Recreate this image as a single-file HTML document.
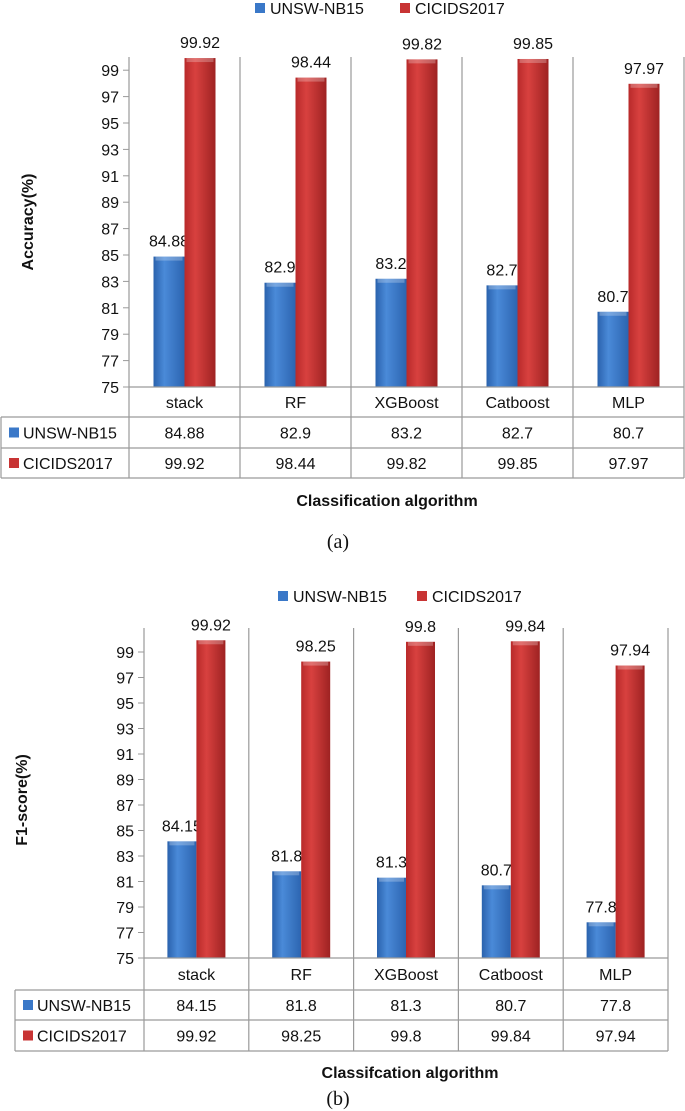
<!DOCTYPE html>
<html><head><meta charset="utf-8"><style>
html,body{margin:0;padding:0;background:#fff;}
svg{display:block;font-family:"Liberation Sans",sans-serif;}
</style></head><body>
<svg id="chart" width="685" height="1111" viewBox="0 0 685 1111" xmlns="http://www.w3.org/2000/svg">
<defs>
<linearGradient id="gb" x1="0" x2="1"><stop offset="0" stop-color="#2a62ad"/><stop offset="0.35" stop-color="#4a8ad8"/><stop offset="1" stop-color="#2c64b0"/></linearGradient>
<linearGradient id="gr" x1="0" x2="1"><stop offset="0" stop-color="#b82a2a"/><stop offset="0.35" stop-color="#d8413f"/><stop offset="1" stop-color="#9e2222"/></linearGradient>
</defs>
</svg>
<script>
const categories = ["stack","RF","XGBoost","Catboost","MLP"];
const seriesNames = ["UNSW-NB15","CICIDS2017"];
const accUNSW = [84.88, 82.9, 83.2, 82.7, 80.7];
const accCIC = [99.92, 98.44, 99.82, 99.85, 97.97];
const f1UNSW = [84.15, 81.8, 81.3, 80.7, 77.8];
const f1CIC = [99.92, 98.25, 99.8, 99.84, 97.94];
const yTicks = [75,77,79,81,83,85,87,89,91,93,95,97,99];

const NS = "http://www.w3.org/2000/svg";
const svg = document.getElementById('chart');
function mk(tag, attrs, parent, text){
  const e = document.createElementNS(NS, tag);
  for (const k in attrs) e.setAttribute(k, attrs[k]);
  if (text !== undefined) e.textContent = text;
  (parent || svg).appendChild(e);
  return e;
}
const colors = ["url(#gb)","url(#gr)"];
const solid = ["#3a78c8","#c83434"];

function drawChart(cfg){
  const g = mk('g', {});
  
  
  const yScale = v => cfg.y0 - (v - 75) * cfg.unit;
  const colX = i => cfg.ax + i * cfg.cw;
  const center = i => colX(i) + cfg.cw / 2;

  const leg = mk('g', {}, g);
  
  
  seriesNames.forEach((n, s) => {
    const lx = cfg.legX[s];
    const it = mk('g', {}, leg);
    
    
    mk('rect', {x: lx, y: cfg.legY - 5, width: 10, height: 10, fill: solid[s]}, it);
    mk('text', {x: lx + 15, y: cfg.legY + 6, 'font-size': 16, fill: '#111'}, it, n);
  });

  for (let i = 0; i <= 5; i++) {
    const l = mk('line', {x1: colX(i), x2: colX(i), y1: cfg.top, y2: cfg.rows[3], stroke: '#9a9a9a', 'stroke-width': 1.2}, g);
    
    
  }
  const ya = mk('g', {}, g);
  
  
  yTicks.forEach(t => {
    const y = yScale(t);
    mk('line', {x1: cfg.ax - 6, x2: cfg.ax, y1: y, y2: y, stroke: '#9a9a9a'}, ya);
    mk('text', {x: cfg.ax - 10, y: y + 6, 'font-size': 16, 'text-anchor': 'end', fill: '#111'}, ya, String(t));
  });
  const yt = mk('text', {x: 0, y: 0, 'font-size': 16, 'font-weight': 'bold', 'text-anchor': 'middle',
    transform: `translate(${cfg.ytx},${cfg.yty}) rotate(-90)`, fill: '#111'}, g, cfg.yTitle);
  
  

  [cfg.s1, cfg.s2].forEach((arr, s) => {
    arr.forEach((v, i) => {
      const x = s === 0 ? center(i) - cfg.bw : center(i);
      const y = yScale(v);
      const b = mk('rect', {x: x, y: y, width: cfg.bw, height: cfg.y0 - y, fill: colors[s]}, g);
      
      
      mk('rect', {x: x + 2, y: y, width: cfg.bw - 4, height: 4, fill: '#fff', opacity: 0.25}, g);
      const lbl = mk('text', {x: x + cfg.bw / 2, y: y - 10, 'font-size': 16, 'text-anchor': 'middle', fill: '#111'}, g, String(v));
      
      
    });
  });

  const tb = mk('g', {}, g);
  
  
  const r = cfg.rows;
  mk('line', {x1: cfg.ax, x2: colX(5), y1: r[0], y2: r[0], stroke: '#9a9a9a', 'stroke-width': 1.2}, tb);
  for (let k = 1; k <= 3; k++) mk('line', {x1: cfg.tl, x2: colX(5), y1: r[k], y2: r[k], stroke: '#9a9a9a', 'stroke-width': 1.2}, tb);
  mk('line', {x1: cfg.tl, x2: cfg.tl, y1: r[1], y2: r[3], stroke: '#9a9a9a', 'stroke-width': 1.2}, tb);
  categories.forEach((c, i) => {
    const t = mk('text', {x: center(i), y: (r[0] + r[1]) / 2 + 6, 'font-size': 16, 'text-anchor': 'middle', fill: '#111'}, tb, c);
    
    
    mk('text', {x: center(i), y: (r[1] + r[2]) / 2 + 6, 'font-size': 16, 'text-anchor': 'middle', fill: '#111'}, tb, String(cfg.s1[i]));
    mk('text', {x: center(i), y: (r[2] + r[3]) / 2 + 6, 'font-size': 16, 'text-anchor': 'middle', fill: '#111'}, tb, String(cfg.s2[i]));
  });
  seriesNames.forEach((n, s) => {
    const cy = (r[1 + s] + r[2 + s]) / 2;
    mk('rect', {x: cfg.tl + 8, y: cy - 5, width: 10, height: 10, fill: solid[s]}, tb);
    mk('text', {x: cfg.tl + 22, y: cy + 6, 'font-size': 16, fill: '#111'}, tb, n);
  });
  const xt = mk('text', {x: cfg.xtx, y: cfg.xty, 'font-size': 16, 'font-weight': 'bold', 'text-anchor': 'middle', fill: '#111'}, g, cfg.xTitle);
  
  
  const cap = mk('text', {x: cfg.capx, y: cfg.capy, 'font-size': 20, 'text-anchor': 'middle', fill: '#111', 'font-family': 'Liberation Serif, serif'}, g, cfg.cap);
  
  
}

drawChart({id: 'accuracy', s1: accUNSW, s2: accCIC, ax: 129, cw: 111, bw: 31, y0: 387, unit: 13.2, top: 57,
  rows: [387, 417, 448, 478], tl: 1, legX: [255, 400], legY: 8, yTitle: 'Accuracy(%)', ytx: 33, yty: 222,
  xTitle: 'Classification algorithm', xtx: 387, xty: 506, cap: '(a)', capx: 338, capy: 548});
drawChart({id: 'f1-score', s1: f1UNSW, s2: f1CIC, ax: 144, cw: 104.8, bw: 29, y0: 958, unit: 12.75, top: 628,
  rows: [958, 990, 1020, 1051], tl: 15, legX: [278, 417], legY: 596, yTitle: 'F1-score(%)', ytx: 27, yty: 800,
  xTitle: 'Classifcation algorithm', xtx: 410, xty: 1078, cap: '(b)', capx: 338, capy: 1105});
</script>
</body></html>
